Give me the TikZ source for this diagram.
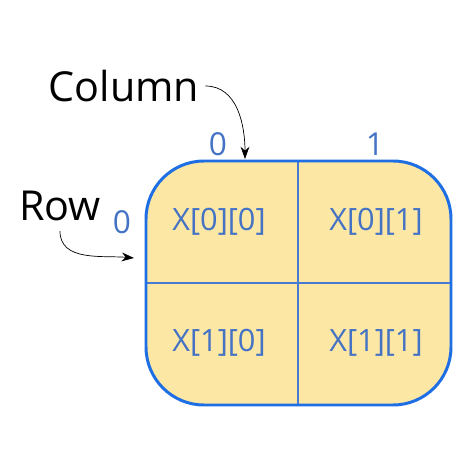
\documentclass[tikz,border=0pt]{standalone}
\usepackage{fontspec}
\setmainfont{Open Sans}
\usetikzlibrary{arrows.meta}

\definecolor{cellfill}{RGB}{252,231,165}
\definecolor{boxblue}{RGB}{30,110,228}
\definecolor{gridblue}{RGB}{72,122,210}
\definecolor{idxblue}{RGB}{68,114,196}

\begin{document}
\begin{tikzpicture}[x=0.02cm,y=-0.02cm,
		cell/.style={text=idxblue,font=\fontsize{17.5}{20}\selectfont},
		idx/.style={text=idxblue,font=\fontsize{18}{21}\selectfont},
		word/.style={font=\fontsize{23.5}{27}\selectfont},
		pointer/.style={-{Stealth[length=7pt,width=5pt]},thin}]
		\useasboundingbox (0,0) rectangle (474,474);
		
		% the 2x2 array
		\fill[cellfill,rounded corners=33] (146,161) rectangle (451,405);
		\draw[gridblue,line width=1.1pt] (298,161)--(298,405);
		\draw[gridblue,line width=1.1pt] (146,283)--(451,283);
		\draw[boxblue,line width=1.7pt,rounded corners=33] (146,161) rectangle (451,405);
		
		% entries
		\node[cell] (x00) at (219,222) {X[0][0]};
		\node[cell] (x01) at (376,222) {X[0][1]};
		\node[cell] (x10) at (219,343) {X[1][0]};
		\node[cell] (x11) at (376,343) {X[1][1]};
		
		% indices
		\node[idx] (c0) at (218,144) {0};
		\node[idx] (c1) at (375,144) {1};
		\node[idx] (r0) at (122,222) {0};
		
		% labels and pointers
		\node[word] (column) at (124,86) {Column};
		\node[word] (row) at (60,206) {Row};
		\coordinate (ctop) at (245,159);
		\coordinate (rleft) at (134,258);
		\draw[pointer] (column.east) to[out=0,in=90] (ctop);
		\draw[pointer] (row.south) ++(0,4) to[out=-90,in=175] (rleft);
	\end{tikzpicture}
\end{document}
